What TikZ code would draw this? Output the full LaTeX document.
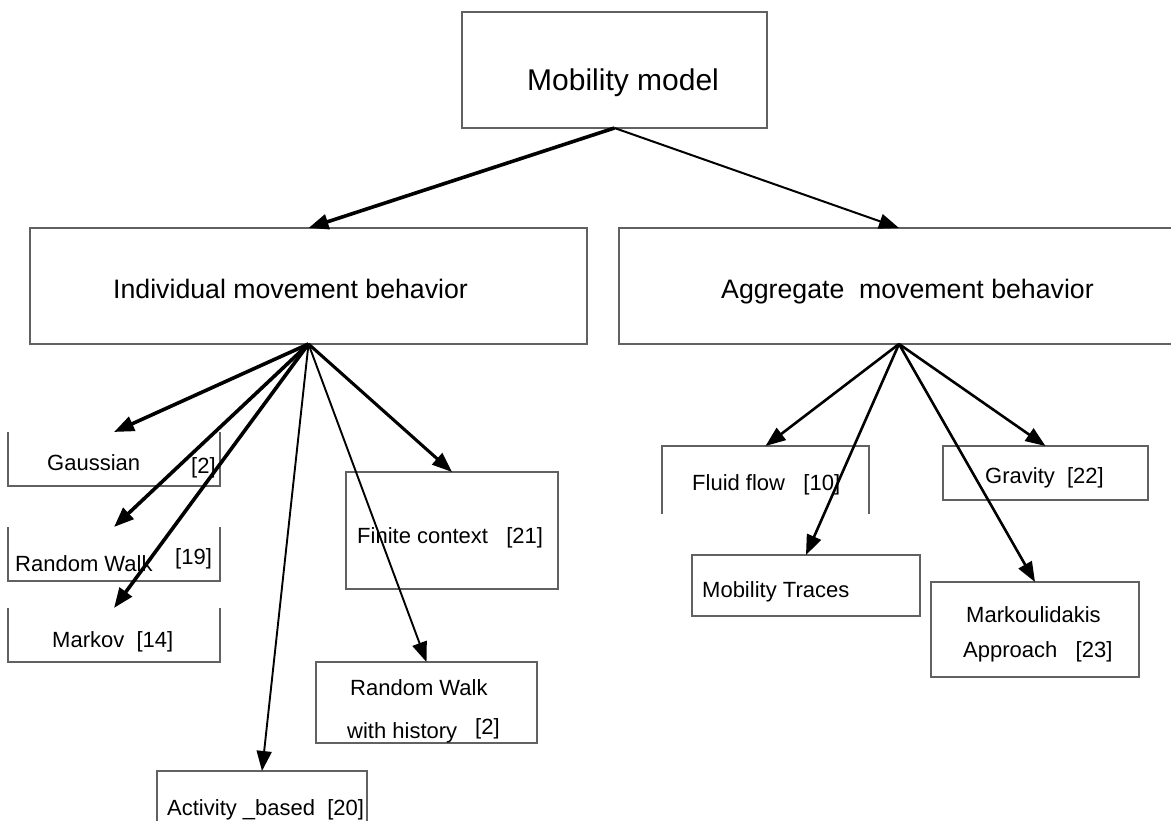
\documentclass[tikz,border=0pt]{standalone}
\usepackage{fontspec}
\setmainfont{Liberation Sans}
\usetikzlibrary{arrows.meta}
\begin{document}
\begin{tikzpicture}[x=1pt,y=-1pt,
  bx/.style={inner sep=0pt,outer sep=0pt,draw=none},
  bline/.style={draw=black!62,line width=1.3pt},
  lbl/.style={inner sep=0pt,anchor=base west,font=\fontsize{22}{26}\selectfont},
  midlbl/.style={inner sep=0pt,anchor=base west,font=\fontsize{26.7}{32}\selectfont},
  toplbl/.style={inner sep=0pt,anchor=base west,font=\fontsize{30}{36}\selectfont},
  arr/.style={-{Triangle[length=20pt,width=15pt]},black},
  thk/.style={arr,line width=3.6pt},
  med/.style={arr,line width=2.6pt},
  thn/.style={arr,line width=1.9pt}]
\useasboundingbox (0,0) rectangle (1171,821);
\fill[white] (0,0) rectangle (1171,821);
% box shapes (invisible nodes, borders drawn below)
\node[bx,minimum width=305pt,minimum height=116pt] (mm) at (614.5,70) {};
\node[bx,minimum width=557pt,minimum height=116pt] (ind) at (308.5,286) {};
\node[bx,minimum width=560pt,minimum height=116pt] (agg) at (899,286) {};
\node[bx,minimum width=212pt,minimum height=54pt] (gauss) at (114,459) {};
\node[bx,minimum width=212pt,minimum height=54pt] (rw) at (114,554) {};
\node[bx,minimum width=212pt,minimum height=54pt] (markov) at (114,635) {};
\node[bx,minimum width=212pt,minimum height=117pt] (finite) at (452,530.5) {};
\node[bx,minimum width=221pt,minimum height=81pt] (rwh) at (426.5,702.5) {};
\node[bx,minimum width=210pt,minimum height=60pt] (act) at (262,801) {};
\node[bx,minimum width=207pt,minimum height=68pt] (fluid) at (765.5,480) {};
\node[bx,minimum width=205pt,minimum height=54pt] (grav) at (1045.5,473) {};
\node[bx,minimum width=228pt,minimum height=61pt] (traces) at (806,585.5) {};
\node[bx,minimum width=208pt,minimum height=95pt] (markou) at (1035,629.5) {};
% borders
\draw[bline] (mm.north west) rectangle (mm.south east);
\draw[bline] (ind.north west) rectangle (ind.south east);
\draw[bline] (agg.north east) -- (agg.north west) -- (agg.south west) -- (agg.south east);
\draw[bline] (gauss.north west) -- (gauss.south west) -- (gauss.south east) -- (gauss.north east);
\draw[bline] (rw.north west) -- (rw.south west) -- (rw.south east) -- (rw.north east);
\draw[bline] (markov.north west) -- (markov.south west) -- (markov.south east) -- (markov.north east);
\draw[bline] (finite.north west) rectangle (finite.south east);
\draw[bline] (rwh.north west) rectangle (rwh.south east);
\draw[bline] (act.south west) -- (act.north west) -- (act.north east) -- (act.south east);
\draw[bline] (fluid.south west) -- (fluid.north west) -- (fluid.north east) -- (fluid.south east);
\draw[bline] (grav.north west) rectangle (grav.south east);
\draw[bline] (traces.north west) rectangle (traces.south east);
\draw[bline] (markou.north west) rectangle (markou.south east);
% labels
\node[toplbl] (tmm) at (527,91) {Mobility model};
\node[midlbl] (tind) at (113,299) {Individual movement behavior};
\node[midlbl] (tagg) at (721,299) {Aggregate\ \ movement behavior};
\node[lbl] (tgauss) at (47,470) {Gaussian};
\node[lbl] (tgaussr) at (191,473) {[2]};
\node[lbl] (trw) at (15,571) {Random Walk};
\node[lbl] (trwr) at (175,564) {[19]};
\node[lbl] (tmarkov) at (52,647) {Markov\ \ [14]};
\node[lbl] (tfinite) at (357,543) {Finite context\ \ \ [21]};
\node[lbl] (trwh) at (350,695) {Random Walk};
\node[lbl] (trwh2) at (347,738) {with history};
\node[lbl] (trwhr) at (475,734) {[2]};
\node[lbl] (tact) at (167,815) {Activity \_based\ \ [20]};
\node[lbl] (tfluid) at (692,490) {Fluid flow\ \ \ [10]};
\node[lbl] (tgrav) at (985,483) {Gravity\ \ [22]};
\node[lbl] (ttraces) at (702,597) {Mobility Traces};
\node[lbl] (tmarkou) at (966,622) {Markoulidakis};
\node[lbl] (tmarkou2) at (963,657) {Approach\ \ \ [23]};
% connectors
\draw[thk] (mm.south) -- (ind.north);
\draw[arr,line width=2pt] (mm.south) -- (agg.north);
\draw[thk] (ind.south) -- (gauss.north);
\draw[thk] (ind.south) -- (rw.north);
\draw[thk] (ind.south) -- (markov.north);
\draw[thn] (ind.south) -- (act.north);
\draw[thn] (ind.south) -- (rwh.north);
\draw[arr,line width=3.1pt] (ind.south) -- (finite.north);
\draw[med] (agg.south) -- (fluid.north);
\draw[med] (agg.south) -- (traces.north);
\draw[med] (agg.south) -- (markou.north);
\draw[med] (agg.south) -- (grav.north);
\end{tikzpicture}
\end{document}
